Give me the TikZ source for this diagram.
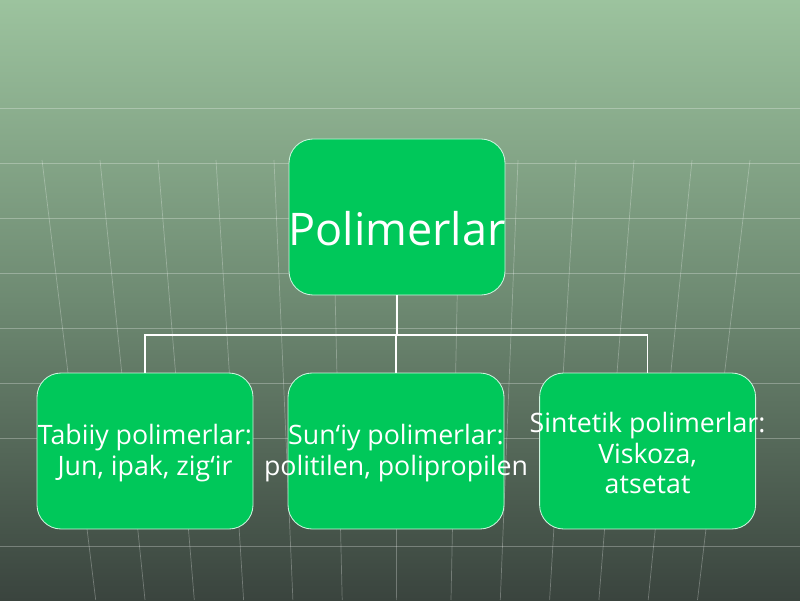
\documentclass[tikz,border=0pt]{standalone}
\usepackage{fontspec}
\setmainfont{Open Sans}
\definecolor{boxgreen}{RGB}{0,200,90}
\definecolor{bgtop}{RGB}{156,195,158}
\definecolor{bgmid}{RGB}{110,138,114}
\definecolor{bgbot}{RGB}{58,68,62}
\begin{document}
\begin{tikzpicture}
  [box/.style={rectangle,rounded corners=0.6cm,draw=white!80!boxgreen,line width=0.6pt,
     fill=boxgreen,minimum width=5.4cm,minimum height=3.9cm,inner sep=0pt},
   boxtext/.style={text=white,align=center,font=\fontsize{19}{21.5}\selectfont},
   grid/.style={white,opacity=0.28,line width=0.5pt},
   link/.style={white,line width=1.2pt}]
  \shade[top color=bgtop,bottom color=bgbot,middle color=bgmid] (0,0) rectangle (20,15);
  \useasboundingbox (0,0) rectangle (20,15);

  % background grid
  \foreach \y in {12.3,10.92,9.55,8.17,6.8,5.42,4.05,1.33}
    \draw [grid] (0,\y) -- (20,\y);
  \foreach \x in {1.05,2.5,3.95,5.4,6.85,8.3,9.9,11.5,12.95,14.4,15.85,17.3,18.75}
    \draw [grid] (\x,11) -- ({10+(\x-10)*0.85},0);

  \node (poly) at (9.925,9.575) [box,label={[boxtext,font=\fontsize{32}{36}\selectfont,yshift=-0.3cm]center:Polimerlar}] {};

  \node (tabiiy) at (3.625,3.725) [box,label={[boxtext,yshift=-0.05cm]center:Tabiiy polimerlar:\\Jun, ipak, zig‘ir}] {};
  \node (suniy) at (9.9,3.725) [box,label={[boxtext,yshift=-0.05cm]center:Sun‘iy polimerlar:\\politilen, polipropilen}] {};
  \node (sint) at (16.19,3.725) [box,label={[boxtext,yshift=-0.05cm]center:Sintetik polimerlar:\\Viskoza,\\atsetat}] {};

  \coordinate (bus) at (9.925,6.625);
  \draw [link] (poly.south) -- (bus);
  \draw [link] (tabiiy.north) |- (bus) -| (sint.north);
  \draw [link] (suniy.north) -- (suniy.north |- bus);
\end{tikzpicture}
\end{document}
